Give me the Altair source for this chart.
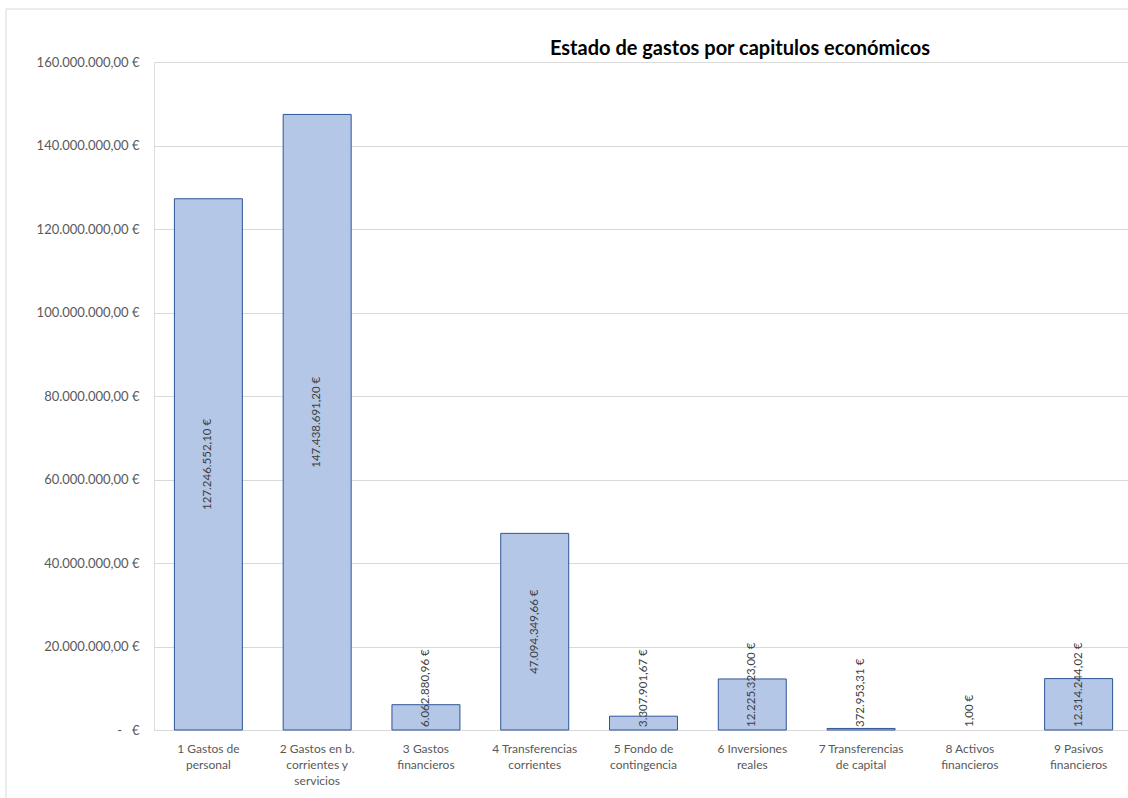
import altair as alt
import pandas as pd

# Capítulos económicos del estado de gastos (cada etiqueta partida en líneas)
capitulos = [
    ["1 Gastos de", "personal"],
    ["2 Gastos en b.", "corrientes y", "servicios"],
    ["3 Gastos", "financieros"],
    ["4 Transferencias", "corrientes"],
    ["5 Fondo de", "contingencia"],
    ["6 Inversiones", "reales"],
    ["7 Transferencias", "de capital"],
    ["8 Activos", "financieros"],
    ["9 Pasivos", "financieros"],
]
importes = [
    127246552.10,
    147438691.20,
    6062880.96,
    47094349.66,
    3307901.67,
    12225323.00,
    372953.31,
    1.00,
    12314244.02,
]
marcas_y = [0, 20e6, 40e6, 60e6, 80e6, 100e6, 120e6, 140e6, 160e6]
titulo = "Estado de gastos por capitulos económicos"

df = pd.DataFrame({
    "capitulo": ["\n".join(c) for c in capitulos],
    "importe": importes,
})
orden = list(df["capitulo"])

FONT = "Lato"
GRIS = "#D9D9D9"
W, H = 974, 668

x_enc = alt.X(
    "capitulo:N",
    sort=orden,
    scale=alt.Scale(range=[0, 979], paddingInner=0.375, paddingOuter=0.1875),
    axis=alt.Axis(
        title=None,
        labelAngle=0,
        labelExpr="split(datum.label, '\\n')",
        labelFont=FONT,
        labelFontSize=12,
        labelColor="#595959",
        labelLineHeight=16,
        labelPadding=13,
        ticks=False,
        domainColor=GRIS,
        domainWidth=1,
        grid=False,
    ),
)
y_scale = alt.Scale(domain=[0, 160e6], nice=False)

barras = alt.Chart(df).mark_bar(
    fill="#B4C7E7", stroke="#2F5597", strokeWidth=1
).encode(
    x=x_enc,
    y=alt.Y(
        "importe:Q",
        scale=y_scale,
        axis=alt.Axis(
            title=None,
            values=marcas_y,
            labelExpr="datum.value == 0 ? '-\u00a0\u00a0\u00a0€' : format(datum.value, '$,.2f')",
            labelFont=FONT,
            labelFontSize=13,
            labelColor="#595959",
            labelPadding=15,
            ticks=False,
            domain=False,
            gridColor=GRIS,
            gridWidth=1,
        ),
    ),
    strokeOpacity=alt.condition("datum.importe < 1000", alt.value(0), alt.value(1)),
)

# Etiquetas centradas en las barras altas
etiq_centro = alt.Chart(df).transform_filter(
    "datum.importe >= 25000000"
).transform_calculate(
    medio="datum.importe / 2"
).mark_text(
    angle=270, align="center", baseline="middle", font=FONT, fontSize=11.5, color="#404040"
).encode(
    x=alt.X("capitulo:N", sort=orden),
    y=alt.Y("medio:Q", scale=y_scale),
    text=alt.Text("importe:Q", format="$,.2f"),
)

# Etiquetas de las barras bajas, apoyadas sobre la base
etiq_base = alt.Chart(df).transform_filter(
    "datum.importe < 25000000"
).transform_calculate(
    base="0"
).mark_text(
    angle=270, align="left", baseline="middle", dx=3, font=FONT, fontSize=11.5, color="#404040"
).encode(
    x=alt.X("capitulo:N", sort=orden),
    y=alt.Y("base:Q", scale=y_scale),
    text=alt.Text("importe:Q", format="$,.2f"),
)

# Borde del área del gráfico (arriba e izquierda) y título
marco = alt.Chart(alt.Data(values=[{}]))
borde_sup = marco.mark_rule(color=GRIS, strokeWidth=1).encode(
    x=alt.value(-148), x2=alt.value(W), y=alt.value(-53)
)
borde_izq = marco.mark_rule(color=GRIS, strokeWidth=1).encode(
    x=alt.value(-148), y=alt.value(-53), y2=alt.value(H + 70)
)
texto_titulo = marco.mark_text(
    text=titulo, align="center", baseline="alphabetic",
    font=FONT, fontSize=20, fontWeight="bold", color="#000000",
).encode(x=alt.value(586), y=alt.value(-7))

chart = alt.layer(
    borde_sup, borde_izq, barras, etiq_centro, etiq_base, texto_titulo
).properties(
    width=W,
    height=H,
    autosize=alt.AutoSizeParams(type="none"),
    padding={"left": 154, "top": 62, "right": 0, "bottom": 68},
).configure_view(
    stroke=None
).configure(
    locale={
        "number": {
            "decimal": ",",
            "thousands": ".",
            "grouping": [3],
            "currency": ["", "\u00a0€"],
        }
    }
)

chart.save("out.html", embed_options={"renderer": "svg", "actions": False})
